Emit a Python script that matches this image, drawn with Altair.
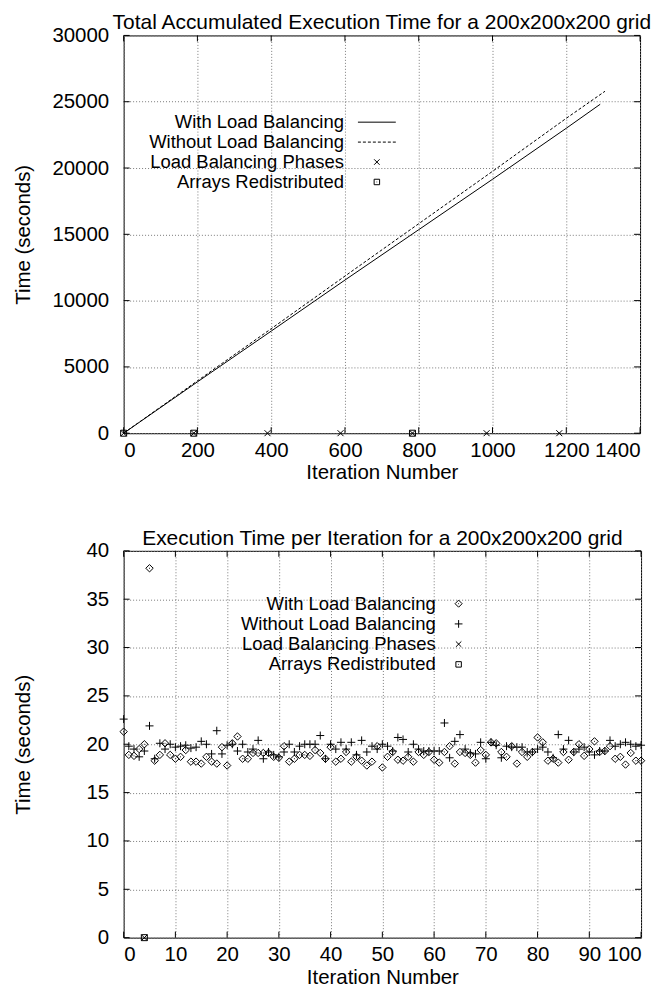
import altair as alt
import pandas as pd

FONT = "Liberation Sans"
FS = 20.5
LFS = 18.5
TFS = 21

# ---------------- Top chart data (cumulative time) ----------------
top_title = "Total Accumulated Execution Time for a 200x200x200 grid"
cum_with_iter = [0, 200, 400, 600, 800, 1000, 1200, 1292]
cum_with_time = [0, 3870, 7700, 11550, 15350, 19150, 23000, 24810]
cum_without_iter = [0, 200, 400, 600, 800, 1000, 1200, 1305]
cum_without_time = [0, 3950, 7880, 11850, 15800, 19750, 23750, 25790]
top_phase_iter = [0, 190, 390, 588, 783, 984, 1181]
top_redist_iter = [0, 190, 783]
top_x_ticks = [0, 200, 400, 600, 800, 1000, 1200, 1400]
top_y_ticks = [0, 5000, 10000, 15000, 20000, 25000, 30000]

# ---------------- Bottom chart data (per-iteration time) ----------------
bot_title = "Execution Time per Iteration for a 200x200x200 grid"
iterations = list(range(0, 101))
with_lb = [
    21.3, 18.9, 18.8, 19.5, 20.0, 38.2, 18.3, 18.9, 20.1, 18.9,
    18.5, 18.7, 19.4, 18.2, 18.2, 18.0, 18.7, 18.2, 18.0, 19.7,
    17.8, 20.1, 20.8, 18.5, 18.5, 19.1, 19.1, 19.1, 19.1, 18.7,
    18.6, 19.8, 18.2, 18.5, 18.9, 18.9, 18.8, 19.4, 19.1, 18.5,
    19.7, 18.2, 18.5, 19.2, 18.2, 18.7, 18.3, 17.8, 18.2, 19.8,
    17.6, 18.7, 19.2, 18.4, 18.3, 18.7, 18.2, 19.2, 18.9, 19.2,
    18.4, 18.1, 19.2, 19.8, 18.0, 19.2, 19.1, 18.9, 18.1, 19.4,
    18.9, 20.2, 20.1, 19.2, 18.7, 19.8, 18.0, 19.2, 18.7, 19.2,
    20.7, 20.2, 18.3, 18.5, 18.1, 19.2, 18.4, 19.2, 20.0, 18.8,
    19.5, 20.3, 19.2, 19.3, 19.8, 18.5, 18.7, 17.9, 19.1, 18.3,
    18.3,
]
without_lb = [
    22.6, 19.8, 19.5, 18.7, 19.3, 21.9, 18.5, 20.1, 19.5, 20.0,
    19.7, 19.8, 19.9, 19.6, 19.7, 20.3, 20.0, 19.0, 21.4, 19.0,
    19.9, 20.0, 19.3, 20.0, 19.2, 19.5, 20.4, 18.5, 19.2, 18.9,
    18.7, 19.2, 20.0, 19.2, 19.8, 20.0, 20.0, 20.0, 20.9, 18.5,
    20.0, 19.5, 20.2, 19.5, 20.2, 18.9, 20.4, 19.2, 19.8, 19.5,
    20.0, 19.8, 19.3, 20.7, 20.5, 19.2, 20.0, 19.5, 19.3, 19.3,
    19.3, 19.3, 22.2, 18.6, 20.3, 21.0, 19.5, 19.1, 19.0, 20.2,
    18.5, 20.2, 19.9, 18.6, 19.8, 19.7, 19.7, 19.7, 19.2, 19.2,
    19.5, 19.7, 19.2, 18.6, 21.0, 19.5, 20.4, 19.2, 19.5, 19.7,
    19.2, 18.9, 19.3, 19.3, 20.4, 19.8, 20.0, 20.2, 20.0, 19.8,
    19.9,
]
bot_phase_iter = [4]
bot_redist_iter = [4]
bot_x_ticks = list(range(0, 101, 10))
bot_y_ticks = list(range(0, 41, 5))

legend_labels = ["With Load Balancing", "Without Load Balancing",
                 "Load Balancing Phases", "Arrays Redistributed"]

# ---------------- Shapes ----------------
DOT = "M-0.12,0L0.12,0"
XSHAPE = "M-1,-1L1,1M-1,1L1,-1" + DOT
PLUS = "M-1,0L1,0M0,-1L0,1"
DIAMOND = "M0,-1L1,0L0,1L-1,0Z" + DOT
SQUARE = "M-1,-1L1,-1L1,1L-1,1Z" + DOT

GRID = dict(grid=True, gridColor="#7a7a7a", gridDash=[1, 2], gridWidth=1, gridOpacity=1)


def pts(xs, ys, shape, size, xscale, yscale, xaxis, yaxis):
    df = pd.DataFrame({"x": xs, "y": ys})
    return alt.Chart(df).mark_point(
        shape=shape, size=size, filled=False, color="black",
        strokeWidth=1, opacity=1
    ).encode(
        x=alt.X("x:Q", scale=xscale, axis=xaxis),
        y=alt.Y("y:Q", scale=yscale, axis=yaxis),
    )


def inner_ticks(xticks, yticks, xscale, yscale, xaxis, yaxis, W, H, L=6):
    layers = []
    dx = pd.DataFrame({"x": xticks})
    dy = pd.DataFrame({"y": yticks})
    layers.append(alt.Chart(dx).mark_rule(color="black", strokeWidth=1).encode(
        x=alt.X("x:Q", scale=xscale, axis=xaxis), y=alt.value(H), y2=alt.value(H - L)))
    layers.append(alt.Chart(dx).mark_rule(color="black", strokeWidth=1).encode(
        x=alt.X("x:Q", scale=xscale, axis=xaxis), y=alt.value(0), y2=alt.value(L)))
    layers.append(alt.Chart(dy).mark_rule(color="black", strokeWidth=1).encode(
        y=alt.Y("y:Q", scale=yscale, axis=yaxis), x=alt.value(0), x2=alt.value(L)))
    layers.append(alt.Chart(dy).mark_rule(color="black", strokeWidth=1).encode(
        y=alt.Y("y:Q", scale=yscale, axis=yaxis), x=alt.value(W), x2=alt.value(W - L)))
    return layers


def legend(entries, x_text, x_sym, y0, dy):
    layers = []
    one = pd.DataFrame({"a": [0]})
    for i, (label, kind, spec) in enumerate(entries):
        y = y0 + i * dy
        layers.append(alt.Chart(pd.DataFrame({"t": [label]})).mark_text(
            align="right", baseline="middle", font=FONT, fontSize=LFS, color="black"
        ).encode(text="t:N", x=alt.value(x_text), y=alt.value(y)))
        if kind == "line":
            kw = dict(color="black", strokeWidth=1)
            if spec:
                kw["strokeDash"] = spec
            layers.append(alt.Chart(one).mark_rule(**kw).encode(
                x=alt.value(x_sym - 19), x2=alt.value(x_sym + 19), y=alt.value(y)))
        else:
            shape, size = spec
            layers.append(alt.Chart(one).mark_point(
                shape=shape, size=size, filled=False, color="black", strokeWidth=1, opacity=1
            ).encode(x=alt.value(x_sym), y=alt.value(y)))
    return layers


# ---------------- Top chart ----------------
TW, TH = 518, 399
txs = alt.Scale(domain=[0, 1400], nice=False, zero=False)
tys = alt.Scale(domain=[0, 30000], nice=False)

xaxis_top = alt.Axis(values=top_x_ticks, title="Iteration Number", format="d", **GRID)
yaxis_top = alt.Axis(values=top_y_ticks, title="Time (seconds)", format="d",
                     titleX=-100, titleY=TH / 2, titleBaseline="middle", **GRID)

top_with = alt.Chart(pd.DataFrame({"x": cum_with_iter, "y": cum_with_time})).mark_line(
    color="black", strokeWidth=1
).encode(
    x=alt.X("x:Q", scale=txs, axis=xaxis_top),
    y=alt.Y("y:Q", scale=tys, axis=yaxis_top),
)
top_without = alt.Chart(pd.DataFrame({"x": cum_without_iter, "y": cum_without_time})).mark_line(
    color="black", strokeWidth=1, strokeDash=[3, 2]
).encode(
    x=alt.X("x:Q", scale=txs, axis=xaxis_top),
    y=alt.Y("y:Q", scale=tys, axis=yaxis_top),
)
top_phase = pts(top_phase_iter, [0] * len(top_phase_iter), XSHAPE, 36, txs, tys, xaxis_top, yaxis_top)
top_redist = pts(top_redist_iter, [0] * len(top_redist_iter), SQUARE, 36, txs, tys, xaxis_top, yaxis_top)

top_leg = legend(
    [(legend_labels[0], "line", None),
     (legend_labels[1], "line", [3, 2]),
     (legend_labels[2], "point", (XSHAPE, 30)),
     (legend_labels[3], "point", (SQUARE, 30))],
    x_text=221, x_sym=254, y0=87, dy=20)

top = alt.layer(
    top_with, top_without, top_phase, top_redist,
    *inner_ticks(top_x_ticks, top_y_ticks, txs, tys, xaxis_top, yaxis_top, TW, TH),
    *top_leg,
).properties(width=TW, height=TH, title=top_title)

# ---------------- Bottom chart ----------------
BW, BH = 519, 388
bxs = alt.Scale(domain=[0, 100], nice=False)
bys = alt.Scale(domain=[0, 40], nice=False)

xaxis_bot = alt.Axis(values=bot_x_ticks, title="Iteration Number", format="d", **GRID)
yaxis_bot = alt.Axis(values=bot_y_ticks, title="Time (seconds)", format="d",
                     titleX=-100, titleY=BH / 2, titleBaseline="middle", **GRID)

bot_with = pts(iterations, with_lb, DIAMOND, 55, bxs, bys, xaxis_bot, yaxis_bot)
bot_without = pts(iterations, without_lb, PLUS, 64, bxs, bys, xaxis_bot, yaxis_bot)
bot_phase = pts(bot_phase_iter, [0], XSHAPE, 36, bxs, bys, xaxis_bot, yaxis_bot)
bot_redist = pts(bot_redist_iter, [0], SQUARE, 36, bxs, bys, xaxis_bot, yaxis_bot)

bot_leg = legend(
    [(legend_labels[0], "point", (DIAMOND, 50)),
     (legend_labels[1], "point", (PLUS, 60)),
     (legend_labels[2], "point", (XSHAPE, 30)),
     (legend_labels[3], "point", (SQUARE, 30))],
    x_text=313, x_sym=336, y0=53, dy=20.3)

bottom = alt.layer(
    bot_with, bot_without, bot_phase, bot_redist,
    *inner_ticks(bot_x_ticks, bot_y_ticks, bxs, bys, xaxis_bot, yaxis_bot, BW, BH),
    *bot_leg,
).properties(width=BW, height=BH, title=bot_title)

chart = alt.vconcat(top, bottom, spacing=43).configure(
    padding={"left": 5, "top": 2, "right": 5, "bottom": 2}
).configure_view(
    stroke="black", strokeWidth=1
).configure_axis(
    domain=False, ticks=False,
    labelFont=FONT, labelFontSize=FS, labelColor="black",
    titleFont=FONT, titleFontSize=FS, titleFontWeight="normal", titleColor="black",
).configure_axisX(
    labelPadding=7, titlePadding=2,
).configure_axisY(
    labelPadding=15,
).configure_title(
    font=FONT, fontSize=TFS, fontWeight="normal", color="black",
    anchor="middle", frame="group", offset=-8,
)

chart.save("out.html", embed_options={"renderer": "svg", "actions": False})
